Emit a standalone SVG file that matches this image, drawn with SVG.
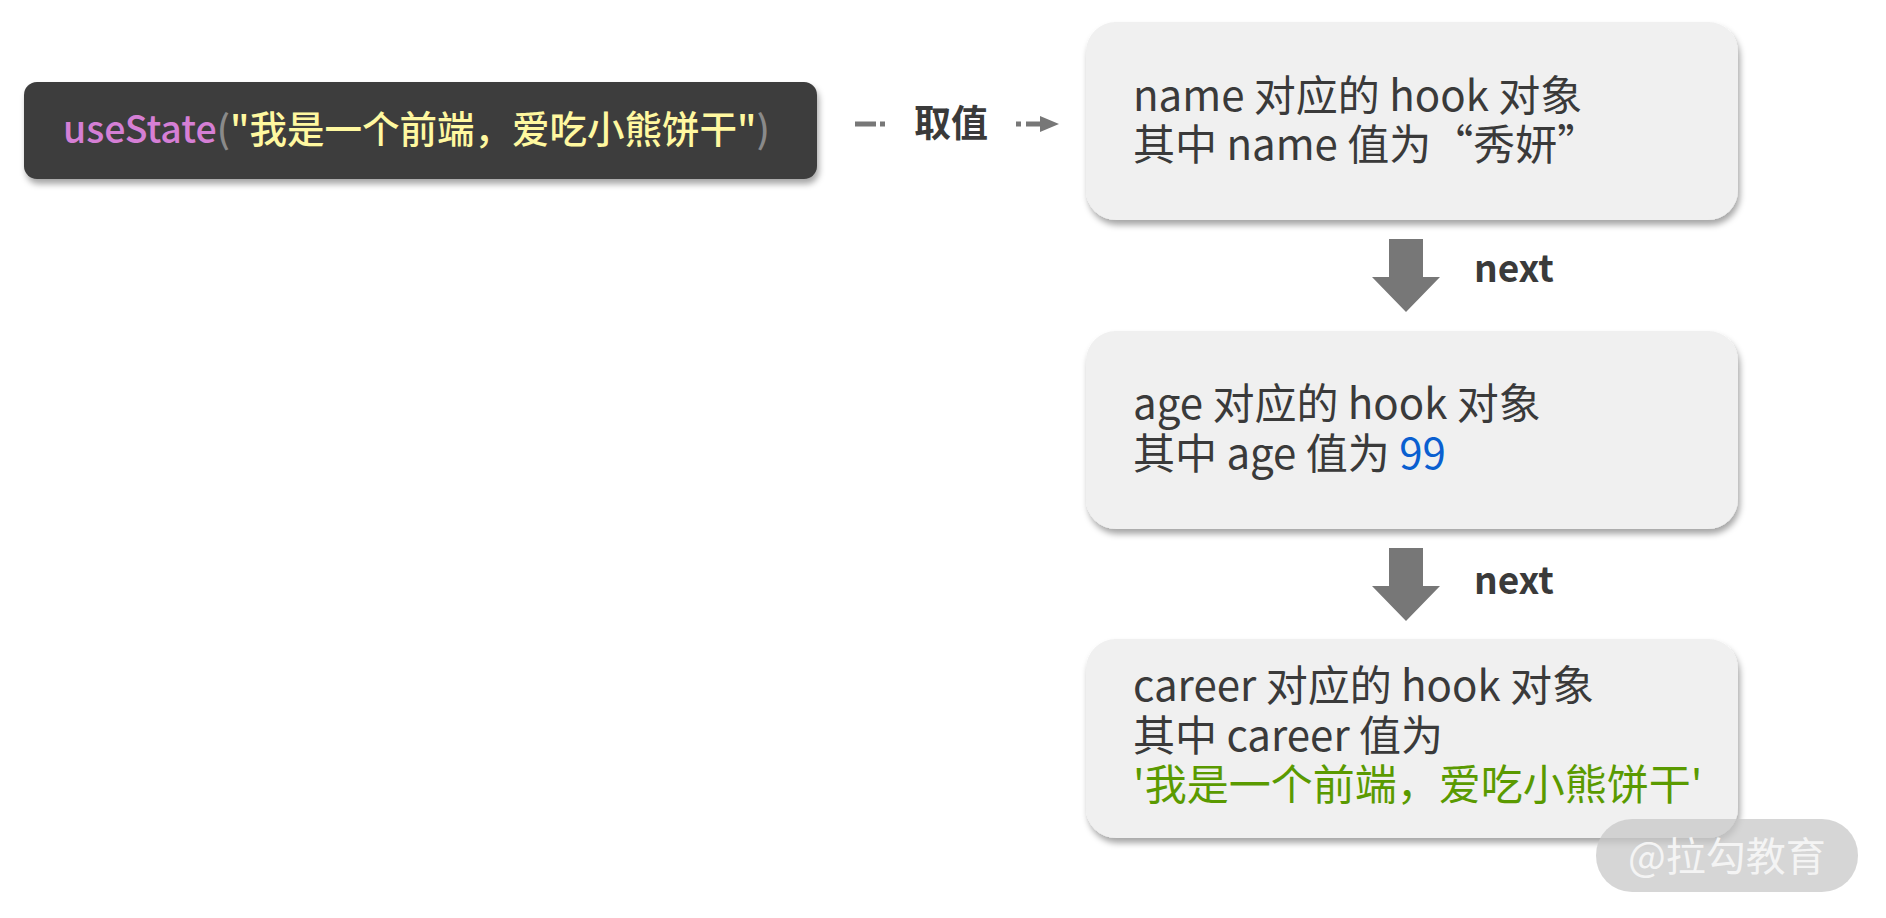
<svg xmlns="http://www.w3.org/2000/svg" width="1886" height="918" viewBox="0 0 1886 918">
<defs>
<style>
text{font-family:"Noto Sans CJK SC","Noto Sans",sans-serif;}
.box{fill:#f0f0f0;filter:url(#sh);}
.t{font-size:42px;fill:#3a3a3a;}
.lbl{font-size:37px;font-weight:700;fill:#3a3a3a;}
.conn{stroke:#777;stroke-width:5;fill:none;}
.blk{fill:#777;}
</style>
<filter id="sh" x="-10%" y="-10%" width="120%" height="130%">
<feDropShadow dx="2" dy="5" stdDeviation="3" flood-color="#000" flood-opacity="0.35"/>
</filter>
</defs>
<rect width="1886" height="918" fill="#fff"/>
<g id="code">
<rect x="24" y="82" width="793" height="97" rx="13" fill="#3c3c3c" filter="url(#sh)"/>
<text x="63" y="143" font-size="37.5" font-weight="500"><tspan fill="#d57fd5">useState</tspan><tspan fill="#8a8a8a">(</tspan><tspan fill="#fff8a0">"我是一个前端，爱吃小熊饼干"</tspan><tspan fill="#8a8a8a">)</tspan></text>
</g>
<g id="hook-name">
<rect class="box" x="1086" y="22" width="652" height="198" rx="30"/>
<text class="t" x="1133" y="111">name 对应的 hook 对象</text>
<text class="t" x="1133" y="160">其中 name 值为“秀妍”</text>
</g>
<g id="hook-age">
<rect class="box" x="1086" y="331" width="652" height="198" rx="30"/>
<text class="t" x="1133" y="419">age 对应的 hook 对象</text>
<text class="t" x="1133" y="469">其中 age 值为 <tspan fill="#0a5fd0">99</tspan></text>
</g>
<g id="hook-career">
<rect class="box" x="1086" y="639" width="652" height="199" rx="30"/>
<text class="t" x="1133" y="701">career 对应的 hook 对象</text>
<text class="t" x="1133" y="751">其中 career 值为</text>
<text class="t" x="1133" y="800" style="fill:#5a9a00">'我是一个前端，爱吃小熊饼干'</text>
</g>
<g id="connectors">
<path class="conn" d="M855,124 H876 M880,124 H885"/>
<text class="lbl" x="951" y="137" text-anchor="middle">取值</text>
<path class="conn" d="M1016,124 H1021 M1026,124 H1042"/>
<polygon class="blk" points="1040,116 1059,124 1040,132"/>
<polygon class="blk" points="1389,239 1423,239 1423,277 1440,277 1406,312 1372,277 1389,277"/>
<text class="lbl" x="1474" y="282">next</text>
<polygon class="blk" points="1389,548 1423,548 1423,586 1440,586 1406,621 1372,586 1389,586"/>
<text class="lbl" x="1474" y="594">next</text>
</g>
<g id="watermark">
<rect x="1596" y="819" width="262" height="73" rx="36" fill="#c8c8c8" fill-opacity="0.75"/>
<text x="1628" y="871" font-size="40" fill="#f4f4f4">@拉勾教育</text>
</g>
</svg>
